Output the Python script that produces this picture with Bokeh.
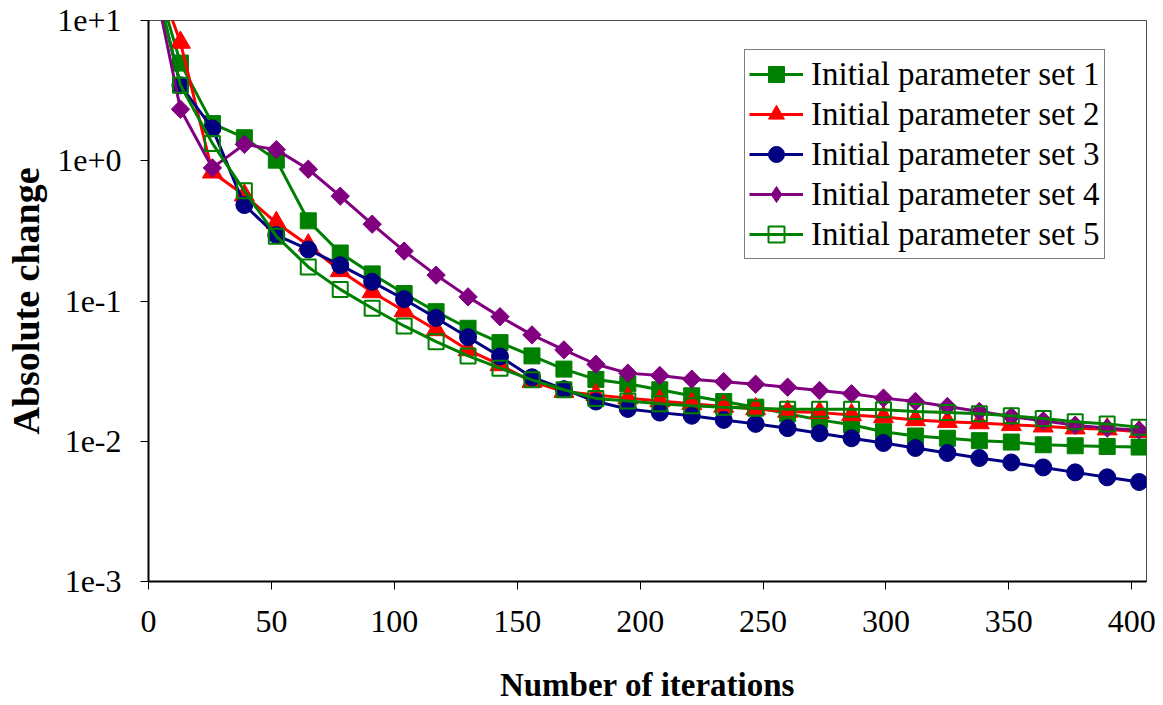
import numpy as np
from bokeh.plotting import figure
from bokeh.models import Range1d, FixedTicker, CustomJSTickFormatter, Legend
from bokeh.embed import file_html
from bokeh.resources import INLINE

# ---- data ----
iterations = [0, 13, 26, 39, 52, 65, 78, 91, 104, 117, 130, 143, 156, 169, 182, 195,
              208, 221, 234, 247, 260, 273, 286, 299, 312, 325, 338, 351, 364, 377, 390, 403]

set1 = [30, 4.97, 1.84, 1.46, 1.01, 0.373, 0.220, 0.156, 0.113, 0.0839, 0.0639, 0.0505,
        0.0406, 0.0327, 0.0276, 0.0257, 0.0233, 0.0211, 0.0192, 0.0175, 0.0157, 0.0142,
        0.0131, 0.0117, 0.0109, 0.0105, 0.0101, 0.00987, 0.00944, 0.00929, 0.00918, 0.00909]
set2 = [30, 6.97, 0.828, 0.568, 0.361, 0.250, 0.164, 0.116, 0.0849, 0.0622, 0.0448, 0.0350,
        0.0266, 0.0226, 0.0214, 0.0203, 0.0194, 0.0185, 0.0177, 0.0170, 0.0163, 0.0160,
        0.0154, 0.0149, 0.0142, 0.0138, 0.0135, 0.0131, 0.0128, 0.0124, 0.0122, 0.0117]
set3 = [30, 3.45, 1.70, 0.483, 0.295, 0.233, 0.180, 0.137, 0.103, 0.0757, 0.0552, 0.0402,
        0.0286, 0.0235, 0.0192, 0.0170, 0.0160, 0.0152, 0.0142, 0.0133, 0.0124, 0.0114,
        0.0105, 0.00971, 0.00895, 0.00824, 0.00759, 0.00706, 0.00651, 0.00600, 0.00553, 0.00512]
set4 = [30, 2.33, 0.889, 1.31, 1.20, 0.870, 0.559, 0.353, 0.227, 0.153, 0.107, 0.0773,
        0.0573, 0.0448, 0.0354, 0.0306, 0.0294, 0.0277, 0.0266, 0.0255, 0.0243, 0.0230,
        0.0218, 0.0203, 0.0192, 0.0177, 0.0163, 0.0150, 0.0140, 0.0130, 0.0124, 0.0120]
set5 = [30, 3.45, 1.33, 0.610, 0.290, 0.175, 0.121, 0.0887, 0.0664, 0.0513, 0.0406, 0.0332,
        0.0274, 0.0233, 0.0202, 0.0194, 0.0185, 0.0179, 0.0175, 0.0172, 0.0169, 0.0169,
        0.0169, 0.0168, 0.0163, 0.0160, 0.0157, 0.0152, 0.0145, 0.0138, 0.0133, 0.0126]

labels = ["Initial parameter set 1", "Initial parameter set 2", "Initial parameter set 3",
          "Initial parameter set 4", "Initial parameter set 5"]
x_ticks = [0, 50, 100, 150, 200, 250, 300, 350, 400]
y_ticks = [0.001, 0.01, 0.1, 1, 10]

SERIF = "Liberation Serif"

p = figure(width=1163, height=705, output_backend="svg", toolbar_location=None,
           y_axis_type="log", x_range=Range1d(0, 406), y_range=Range1d(0.001, 10),
           min_border_left=148, min_border_right=17, min_border_top=20, min_border_bottom=123)
p.background_fill_color = "white"
p.border_fill_color = "white"
p.outline_line_color = "#4d4d4d"
p.outline_line_width = 1
p.xgrid.visible = False
p.ygrid.visible = False

styles = [
    dict(color="#008000", marker="square", size=16, fill="#008000", angle=0.0, lw=1, key="same"),
    dict(color="#FF0000", marker="triangle", size=20, fill="#FF0000", angle=0.0, lw=1, key="same"),
    dict(color="#000080", marker="circle", size=17, fill="#000080", angle=0.0, lw=1, key="same"),
    dict(color="#800080", marker="square", size=13, fill="#800080", angle=np.pi / 4, lw=1, key="diamond"),
    dict(color="#008000", marker="square", size=15, fill=None, angle=0.0, lw=2, key="same"),
]
series = [set1, set2, set3, set4, set5]

items = []
for data, st, lab in zip(series, styles, labels):
    ln = p.line(iterations, data, line_color=st["color"], line_width=3)
    key_r = None
    if st["key"] == "diamond":
        # diamond glyph hidden under the rotated squares; used for the legend key
        key_r = p.scatter(iterations, data, marker="diamond", size=16,
                          fill_color=st["fill"], line_color=st["color"])
    sc = p.scatter(iterations, data, marker=st["marker"], size=st["size"], angle=st["angle"],
                   fill_color=st["fill"], line_color=st["color"], line_width=st["lw"])
    items.append((lab, [ln, key_r if key_r is not None else sc]))

legend = Legend(items=items, location=(596, 322))
legend.label_text_font = SERIF
legend.label_text_font_size = "33px"
legend.label_text_color = "black"
legend.label_standoff = 8
legend.glyph_width = 54
legend.glyph_height = 40
legend.label_height = 40
legend.spacing = 0
legend.padding = 4
legend.margin = 0
legend.border_line_color = "black"
legend.border_line_width = 1
legend.background_fill_color = "white"
legend.background_fill_alpha = 1.0
p.add_layout(legend, "center")

xa = p.xaxis[0]
xa.ticker = FixedTicker(ticks=x_ticks)
xa.axis_label = "Number of iterations"
ya = p.yaxis[0]
ya.ticker = FixedTicker(ticks=y_ticks)
ya.formatter = CustomJSTickFormatter(code="""
const e = Math.round(Math.log10(tick));
return "1e" + (e >= 0 ? "+" : "") + e;
""")
ya.axis_label = "Absolute change"

for ax in (xa, ya):
    ax.axis_line_color = "black"
    ax.axis_line_width = 2
    ax.major_tick_line_color = "black"
    ax.major_tick_line_width = 1
    ax.major_tick_out = 8
    ax.major_tick_in = 0
    ax.minor_tick_out = 0
    ax.minor_tick_in = 0
    ax.major_label_text_font = SERIF
    ax.major_label_text_font_size = "32px"
    ax.major_label_text_color = "black"
    ax.axis_label_text_font = SERIF
    ax.axis_label_text_font_style = "bold"
    ax.axis_label_text_color = "black"

xa.major_label_standoff = 21
xa.axis_label_standoff = 32
xa.axis_label_text_font_size = "33px"
ya.major_label_standoff = 19
ya.axis_label_standoff = 7
ya.axis_label_text_font_size = "38px"

open("out.html", "w").write(file_html(p, INLINE))
